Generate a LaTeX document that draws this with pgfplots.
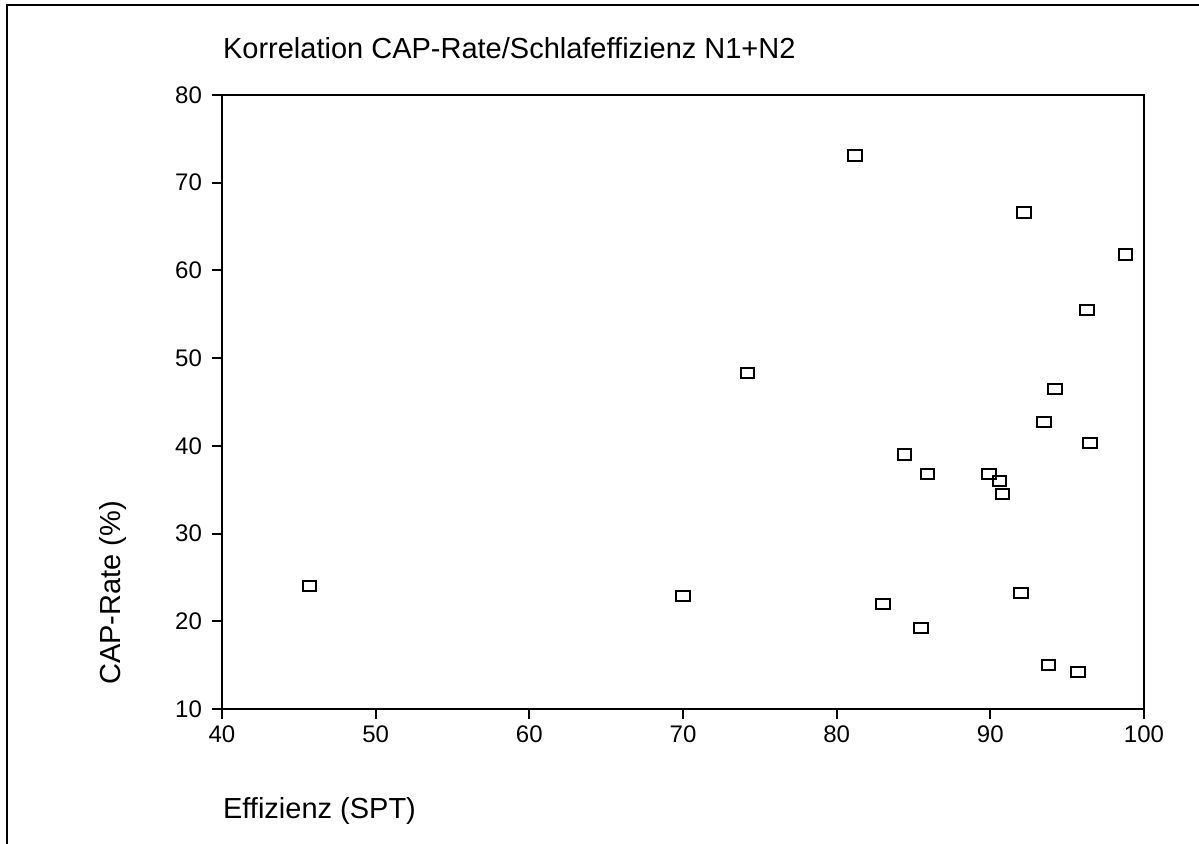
\documentclass[border=0pt]{standalone}
\usepackage{pgfplots}
\pgfplotsset{compat=1.18}
\usepackage{fontspec}
\setmainfont{Liberation Sans}

% Korrelation CAP-Rate / Schlafeffizienz
\pgfplotstableread{
x     y
45.7  24.0
70.0  22.9
74.2  48.3
81.2  73.1
92.2  66.6
98.8  61.8
96.3  55.5
94.2  46.5
93.5  42.7
96.5  40.3
84.4  39.0
85.9  36.8
89.9  36.8
90.6  36.0
90.8  34.5
92.0  23.2
83.0  22.0
85.5  19.2
93.8  15.0
95.7  14.2
}\capdata

\begin{document}
\begin{tikzpicture}
  % 1 px of the reference = 0.5pt
  \useasboundingbox (0pt,0pt) rectangle (599.5pt,422pt);
  \draw[line width=1pt] (3.25pt,0pt) -- (3.25pt,419.65pt) -- (599.5pt,419.65pt);

  \begin{axis}[
      at={(111pt,67.5pt)}, anchor=south west,
      scale only axis,
      width=461pt, height=307pt,
      xmin=40, xmax=100, ymin=10, ymax=80,
      xtick={40,50,...,100}, ytick={10,20,...,80},
      tick align=outside, tick pos=left,
      major tick length=5pt,
      axis line style={line width=1pt},
      every tick/.style={black, line width=1pt},
      ticklabel style={font=\fontsize{12}{14}\selectfont},
      yticklabel style={xshift=-1.5pt},
      /pgf/number format/assume math mode=true,
    ]
    \addplot[only marks, mark=square, mark size=2.6pt,
      mark options={xscale=1.3, line width=1pt, black, fill=white}]
      table[x=x, y=y] {\capdata};
  \end{axis}

  \node[anchor=west, font=\fontsize{14.5}{17}\selectfont] at (108pt,398pt)
    {Korrelation CAP-Rate/Schlafeffizienz N1+N2};
  \node[rotate=90, font=\fontsize{14.5}{17}\selectfont] at (56.5pt,125.5pt)
    {CAP-Rate (\%)};
  \node[anchor=west, font=\fontsize{14.5}{17}\selectfont] at (108pt,16.5pt)
    {Effizienz (SPT)};
\end{tikzpicture}
\end{document}
